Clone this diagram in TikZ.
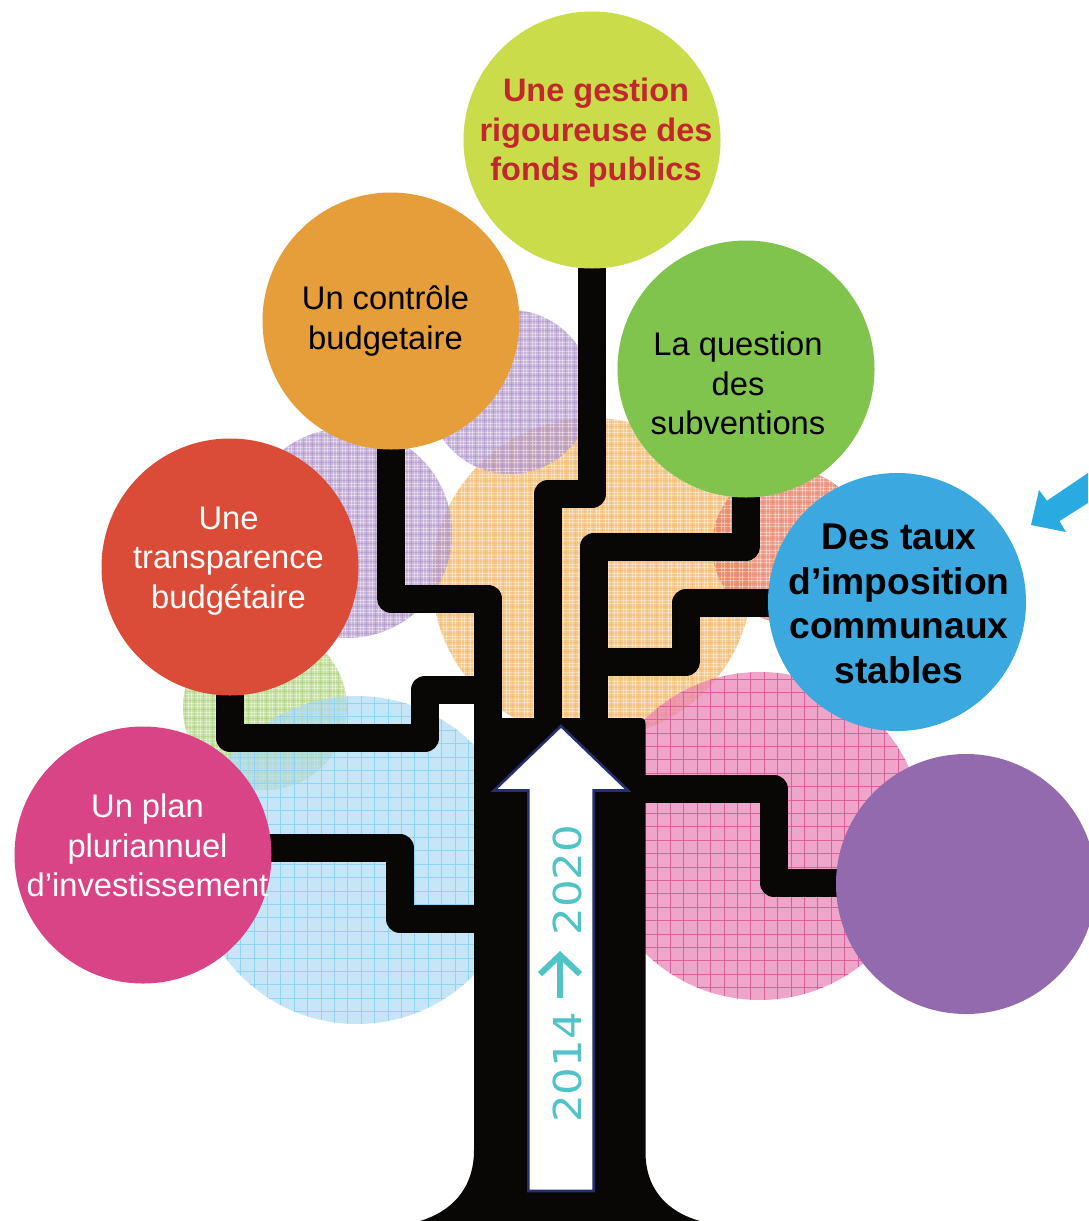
\documentclass[tikz,border=0pt]{standalone}
\usepackage{fontspec}
\setmainfont{Liberation Sans}
\newfontfamily\yearfont[FakeStretch=1.13]{DejaVu Sans}
\usetikzlibrary{arrows.meta,calc}
\pgfdeclarelayer{back}
\pgfdeclarelayer{mid}
\pgfsetlayers{back,mid,main}
\definecolor{cLime}{HTML}{CBDC4A}
\definecolor{cOrange}{HTML}{E59E3A}
\definecolor{cGreen}{HTML}{80C34D}
\definecolor{cBlue}{HTML}{3BA9E0}
\definecolor{cRed}{HTML}{DA4B38}
\definecolor{cPink}{HTML}{D84486}
\definecolor{cPurple}{HTML}{936AAD}
\definecolor{cNavy}{HTML}{262F6E}
\definecolor{cTeal}{HTML}{4FC3C6}
\definecolor{cArrow}{HTML}{29ABE2}
\definecolor{cTitle}{HTML}{C1272D}
\definecolor{cTrunk}{HTML}{080706}
\definecolor{oA}{HTML}{F2B25B}\definecolor{oC}{HTML}{EFA850}
\definecolor{uA}{HTML}{B093CA}\definecolor{uC}{HTML}{9C7ABD}
\definecolor{rA}{HTML}{E87256}\definecolor{rC}{HTML}{E06A50}
\definecolor{gA}{HTML}{AFD47A}\definecolor{gC}{HTML}{98C860}
\definecolor{bA}{HTML}{AEDBF5}\definecolor{bC}{HTML}{8FD3F6}
\definecolor{pA}{HTML}{E980B3}\definecolor{pC}{HTML}{DE5F9A}
\newcommand{\gridlines}[3]{%
  \pgfmathtruncatemacro{\nn}{340/#1}%
  \foreach \k in {0,...,\nn}{%
    \draw[#2,line width=#3] (path picture bounding box.center) ++(-170+\k*#1,-170) -- ++(0,340);
    \draw[#2,line width=#3] (path picture bounding box.center) ++(-170,-170+\k*#1) -- ++(340,0);
  }}
\newcommand{\discfill}[1]{\fill[#1,opacity=.7] (path picture bounding box.south west) rectangle (path picture bounding box.north east);}
\tikzset{
  x=1pt,y=-1pt,
  ball/.style={circle,inner sep=0pt,minimum size=257pt},
  pale/.style={circle,inner sep=0pt},
  fineA/.style n args={2}{pale,path picture={\discfill{#1}\gridlines{3}{white,opacity=.4}{1pt}\gridlines{9}{#2,opacity=.5}{.8pt}}},
  coarseA/.style n args={2}{pale,path picture={\discfill{#1}\gridlines{13.4}{#2}{.9pt}}},
  regular/.style={font=\fontsize{32.7}{39.5}\selectfont,align=center,inner sep=0pt},
  strong/.style={font=\fontsize{37.2}{44.7}\selectfont\bfseries,align=center,inner sep=0pt},
  branch/.style={draw=cTrunk,line width=28pt,line join=round},
  yearlabel/.style={font=\yearfont\fontsize{38.5}{40}\selectfont,text=cTeal,rotate=90,inner sep=0pt},
  yeararrow/.style={draw=cTeal,line width=6pt,-{Straight Barb[length=19pt,width=40pt,line width=6pt]}}
}
\begin{document}
\begin{tikzpicture}
\useasboundingbox (0,0) rectangle (1088,1221);
% pale textured discs
\begin{pgfonlayer}{back}
\fill[white] (0,0) rectangle (1088,1221);
\node[fineA={oA}{oC},minimum size=320pt] (pOrange) at (592,578) {};
\node[fineA={uA}{uC},minimum size=164pt] (pPurpleA) at (510,392) {};
\node[fineA={uA}{uC},minimum size=210pt] (pPurpleB) at (347,533) {};
\node[fineA={rA}{rC},minimum size=154pt] (pRed) at (789,546) {};
\node[fineA={gA}{gC},minimum size=164pt] (pGreen) at (265,708) {};
\node[coarseA={bA}{bC},minimum size=328pt] (pBlue) at (357,860) {};
\node[coarseA={pA}{pC},minimum size=328pt] (pPink) at (760,836) {};
\end{pgfonlayer}
% big discs
\node[ball,fill=cLime] (lime) at (592,140) {};
\node[ball,fill=cOrange] (orangeball) at (391,321) {};
\node[ball,fill=cGreen] (greenball) at (746,369) {};
\node[ball,fill=cBlue,minimum size=258pt] (blueball) at (897,602) {};
\node[ball,fill=cRed] (redball) at (230,567) {};
\node[ball,fill=cPink] (pinkball) at (143,855) {};
\node[ball,fill=cPurple,minimum size=260pt] (purpleball) at (966,884) {};
% labels
\node[regular,text=cTitle,font=\fontsize{32.5}{39.5}\selectfont\bfseries] (tLime) at (596,133) {Une gestion\\rigoureuse des\\fonds publics};
\node[regular] (tOrange) at (385.5,321) {Un contrôle\\budgetaire};
\node[regular] (tGreen) at (738,383.5) {La question\\des\\subventions};
\node[strong] (tBlue) at (899,604) {Des taux\\d’imposition\\communaux\\stables};
\node[regular,text=white] (tRed) at (228.5,561) {Une\\transparence\\budgétaire};
\node[regular,text=white] (tPink) at (147.5,845.5) {Un plan\\pluriannuel\\d’investissement};
% trunk and branches
\coordinate (tr1) at (474,718);
\coordinate (tr2) at (645.5,718);
\begin{pgfonlayer}{mid}
\fill[cTrunk] (tr1) -- (640,718) .. controls (644,718) and (645.5,720) .. (645.5,724) -- (645.5,1152) .. controls (645.5,1190) and (668,1212) .. (700,1221) -- (420,1221) .. controls (450,1212) and (474,1190) .. (474,1150) -- cycle;
\coordinate (a1) at (592,494); \coordinate (a2) at (548,494); \coordinate (a3) at (548,725);
\draw[branch] (lime.center) -- (a1) -- (a2) -- (a3);
\coordinate (b1) at (391,598.5); \coordinate (b2) at (488,598.5); \coordinate (b3) at (488,725);
\draw[branch] (orangeball.center) -- (b1) -- (b2) -- (b3);
\coordinate (c1) at (746,546.5); \coordinate (c2) at (594,546.5); \coordinate (c3) at (594,725);
\draw[branch] (greenball.center) -- (c1) -- (c2) -- (c3);
\coordinate (d1) at (686,603); \coordinate (d2) at (686,661.5); \coordinate (d3) at (594,661.5);
\draw[branch] (blueball.center |- d1) -- (d1) -- (d2) -- (d3);
\coordinate (e1) at (230,738); \coordinate (e2) at (425,738); \coordinate (e3) at (425,689.5); \coordinate (e4) at (480,689.5);
\draw[branch] (redball.center) -- (e1) -- (e2) -- (e3) -- (e4);
\coordinate (f1) at (400,848); \coordinate (f2) at (400,919); \coordinate (f3) at (480,919);
\draw[branch] (pinkball.center |- f1) -- (f1) -- (f2) -- (f3);
\coordinate (g0) at (640,789); \coordinate (g1) at (774,789); \coordinate (g2) at (774,883);
\draw[branch] (purpleball.center |- g2) -- (g2) -- (g1) -- (g0);
\end{pgfonlayer}
% time arrow
\draw[cNavy,line width=2.6pt,fill=white,miter limit=4] (561,726) -- (628,790.5) -- (593.7,790.5) -- (593.7,1191) -- (528.3,1191) -- (528.3,790.5) -- (494,790.5) -- cycle;
\node[yearlabel] (y20) at (567,880) {2020};
\node[yearlabel] (y14) at (567,1067.5) {2014};
\coordinate (ya) at (560,998); \coordinate (yb) at (560,951);
\draw[yeararrow] (ya) -- (yb);
% cyan pointer
\fill[cArrow] (1031,525) -- (1039,490) -- (1047,500.7) -- (1088,473) -- (1088,503) -- (1059.5,521) -- (1066,532) -- cycle;
\end{tikzpicture}
\end{document}
